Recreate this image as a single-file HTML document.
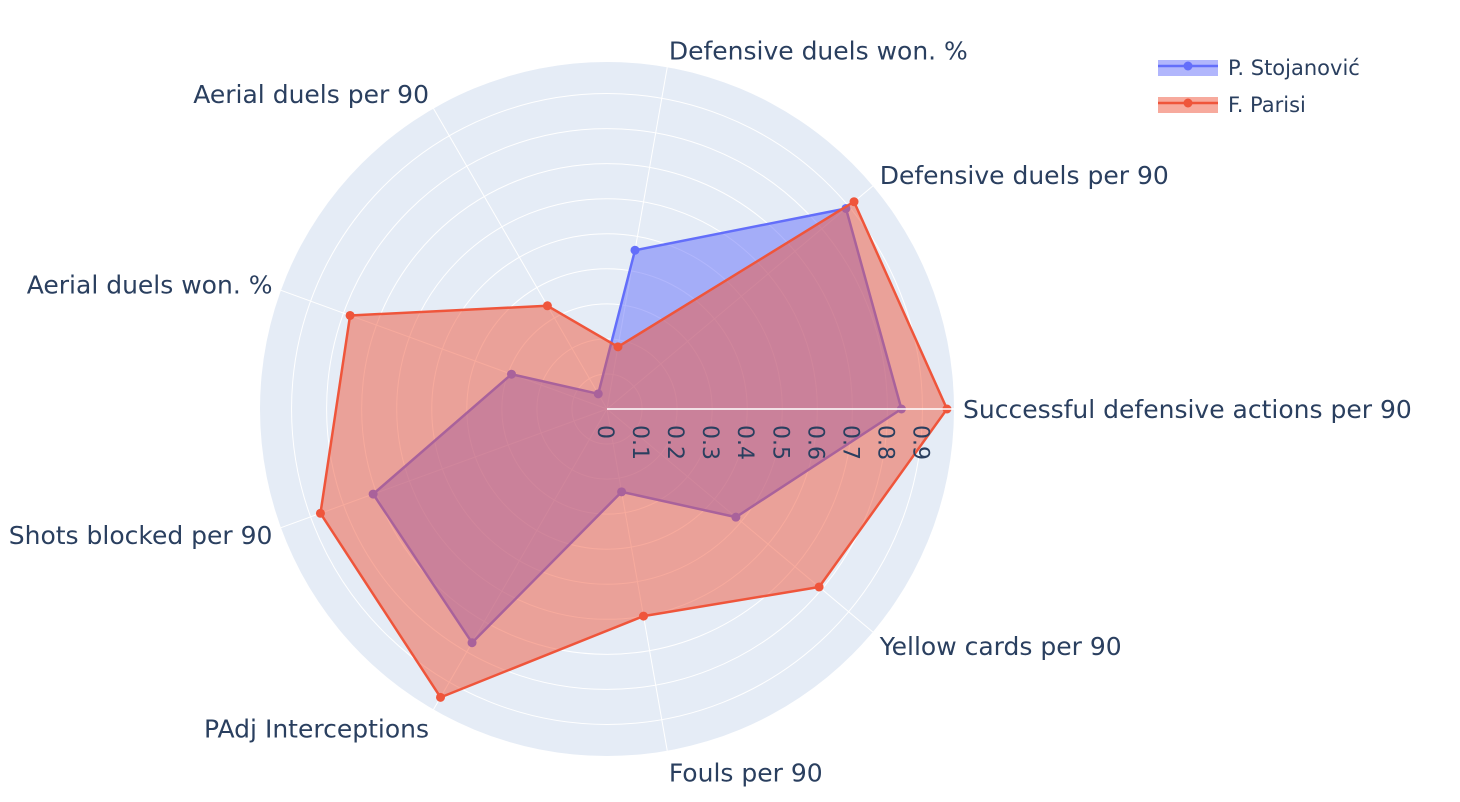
<!DOCTYPE html>
<html><head><meta charset="utf-8">
<style>
html,body{margin:0;padding:0;background:#fff;}
svg{display:block;font-family:"DejaVu Sans","Liberation Sans",Arial,sans-serif;}
</style></head>
<body>
<svg id="chart" width="1460" height="802" viewBox="0 0 1460 802">
<g id="plot"></g>
<g id="legend">
 <g>
  <rect x="1158" y="60" width="60" height="16" fill="rgba(99,110,250,0.5)"/>
  <line x1="1158" y1="66" x2="1218" y2="66" stroke="#636efa" stroke-width="2.5"/>
  <circle cx="1188" cy="66" r="4.5" fill="#636efa"/>
  <text x="1228" y="75" font-size="21" fill="#2a3f5f">P. Stojanović</text>
 </g>
 <g>
  <rect x="1158" y="97" width="60" height="16" fill="rgba(239,85,59,0.5)"/>
  <line x1="1158" y1="103" x2="1218" y2="103" stroke="#ef553b" stroke-width="2.5"/>
  <circle cx="1188" cy="103" r="4.5" fill="#ef553b"/>
  <text x="1228" y="112" font-size="21" fill="#2a3f5f">F. Parisi</text>
 </g>
</g>
</svg>
<script>
const categories = ["Successful defensive actions per 90","Defensive duels per 90","Defensive duels won. %","Aerial duels per 90","Aerial duels won. %","Shots blocked per 90","PAdj Interceptions","Fouls per 90","Yellow cards per 90"];
const stojanovic = [0.84,0.89,0.46,0.05,0.29,0.71,0.77,0.24,0.48];
const parisi = [0.97,0.92,0.18,0.34,0.78,0.87,0.95,0.60,0.79];
const radialTicks = [0,0.1,0.2,0.3,0.4,0.5,0.6,0.7,0.8,0.9];
const rangeMax = 0.99;

const NS="http://www.w3.org/2000/svg";
const cx=607, cy=409, R=347;
const plot=document.getElementById('plot');
function rScale(v){return v/rangeMax*R;}
function ang(i){return i*2*Math.PI/categories.length;}
function pt(v,i){const r=rScale(v),a=ang(i);return [cx+r*Math.cos(a), cy-r*Math.sin(a)];}
function mk(tag,attrs){const e=document.createElementNS(NS,tag);for(const k in attrs)e.setAttribute(k,attrs[k]);return e;}

const bg=mk('circle',{cx:cx,cy:cy,r:R,fill:'#e5ecf6'});


plot.appendChild(bg);
radialTicks.forEach(t=>{ if(t===0)return;
 const c=mk('circle',{cx:cx,cy:cy,r:rScale(t),fill:'none',stroke:'#fff','stroke-width':1});
 
 
 plot.appendChild(c);});
categories.forEach((c,i)=>{const p=pt(rangeMax,i);
 const l=mk('line',{x1:cx,y1:cy,x2:p[0],y2:p[1],stroke:'#fff','stroke-width':1});
 
 
 plot.appendChild(l);});

function series(vals,stroke,fill,name){
 const g=mk('g',{});
 
 
 const pts=vals.map((v,i)=>pt(v,i).join(',')).join(' ');
 const poly=mk('polygon',{points:pts,fill:fill,stroke:stroke,'stroke-width':2.5,'stroke-linejoin':'round'});
 
 
 g.appendChild(poly);
 vals.forEach((v,i)=>{const p=pt(v,i);
  const c=mk('circle',{cx:p[0],cy:p[1],r:4.5,fill:stroke});
  
  
  g.appendChild(c);});
 plot.appendChild(g);
}
series(stojanovic,'#636efa','rgba(99,110,250,0.5)','series-stojanovic');
series(parisi,'#ef553b','rgba(239,85,59,0.5)','series-parisi');

const ax=mk('line',{x1:cx,y1:cy,x2:cx+R,y2:cy,stroke:'#fff','stroke-width':1.5});


plot.appendChild(ax);
radialTicks.forEach(t=>{const x=cx+rScale(t)-9;
 const tx=mk('text',{x:0,y:0,'font-size':22,fill:'#2a3f5f',transform:'translate('+x+','+(cy+16)+') rotate(90)'});
 tx.textContent=String(t);
 
 
 plot.appendChild(tx);});

categories.forEach((c,i)=>{const a=ang(i);const cs=Math.cos(a),sn=Math.sin(a);
 const rr=R+9;const x=cx+rr*cs, y=cy-rr*sn;
 let anchor = cs>=0?'start':'end';
 const dy=9 - sn*(sn>0?8:13);
 const tx=mk('text',{x:x,y:y+dy,'font-size':25,fill:'#2a3f5f','text-anchor':anchor});
 tx.textContent=c;
 
 
 plot.appendChild(tx);});
</script>
</body></html>
